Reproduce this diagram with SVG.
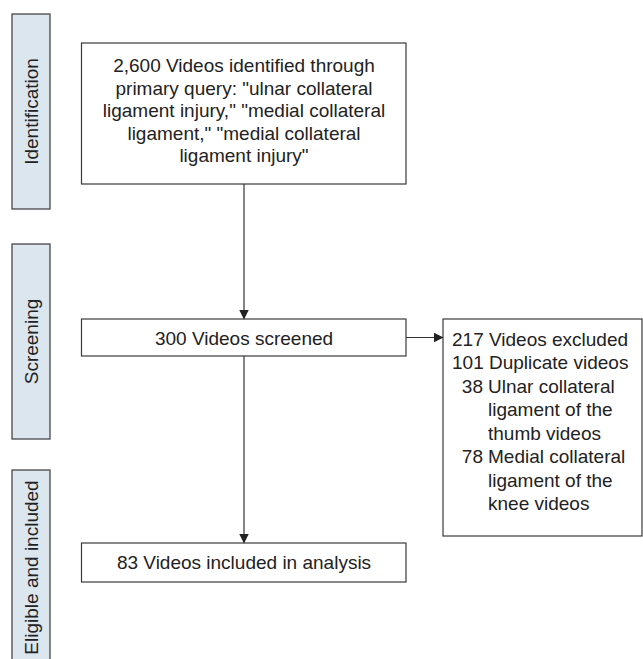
<svg xmlns="http://www.w3.org/2000/svg" width="643" height="659" viewBox="0 0 643 659">
<style>
.bar{fill:#dce6ef;stroke:#3a3a3a;stroke-width:1.2}
.box{fill:#ffffff;stroke:#3a3a3a;stroke-width:1.2}
.t{font-family:"Liberation Sans",Arial,sans-serif;font-size:19px;fill:#222}
.c{text-anchor:middle}
.e{text-anchor:end}
.ln{stroke:#333;stroke-width:1.2;fill:none}
</style>
<defs>
<marker id="ah" markerWidth="10" markerHeight="10" refX="9" refY="5" orient="auto" markerUnits="userSpaceOnUse">
<path d="M0,0 L10,5 L0,10 Z" fill="#222"/>
</marker>
</defs>
<rect width="643" height="659" fill="#ffffff"/>
<g id="stage-identification">
<rect class="bar" x="12" y="14" width="38" height="195"/>
<text class="t c" transform="translate(37.5,111.5) rotate(-90)">Identification</text>
</g>
<g id="stage-screening">
<rect class="bar" x="12" y="244" width="38" height="195"/>
<text class="t c" transform="translate(37.5,341.5) rotate(-90)">Screening</text>
</g>
<g id="stage-eligible">
<rect class="bar" x="12" y="470" width="38" height="200"/>
<text class="t c" transform="translate(37.5,567.5) rotate(-90)">Eligible and included</text>
</g>
<g id="node-identified">
<rect class="box" x="81.5" y="43" width="324.5" height="141"/>
<text class="t c" x="244" y="72">2,600 Videos identified through</text>
<text class="t c" x="244" y="94.5">primary query: "ulnar collateral</text>
<text class="t c" x="244" y="117">ligament injury," "medial collateral</text>
<text class="t c" x="244" y="139.5">ligament," "medial collateral</text>
<text class="t c" x="244" y="162">ligament injury"</text>
</g>
<g id="node-screened">
<rect class="box" x="81.5" y="319" width="324.5" height="37"/>
<text class="t c" x="244" y="344.5">300 Videos screened</text>
</g>
<g id="node-excluded">
<rect class="box" x="443" y="319" width="199" height="217"/>
<text class="t" x="452" y="345.5">217 Videos excluded</text>
<text class="t" x="452" y="369">101 Duplicate videos</text>
<text class="t e" x="483" y="392.5">38</text>
<text class="t" x="488" y="392.5">Ulnar collateral</text>
<text class="t" x="488" y="416">ligament of the</text>
<text class="t" x="488" y="439.5">thumb videos</text>
<text class="t e" x="483" y="463">78</text>
<text class="t" x="488" y="463">Medial collateral</text>
<text class="t" x="488" y="486.5">ligament of the</text>
<text class="t" x="488" y="510">knee videos</text>
</g>
<g id="node-included">
<rect class="box" x="81.5" y="543" width="324.5" height="39"/>
<text class="t c" x="244" y="569">83 Videos included in analysis</text>
</g>
<g id="connectors">
<line class="ln" x1="244" y1="184" x2="244" y2="318.5" marker-end="url(#ah)"/>
<line class="ln" x1="244" y1="356" x2="244" y2="542.5" marker-end="url(#ah)"/>
<line class="ln" x1="406" y1="337.5" x2="442.5" y2="337.5" marker-end="url(#ah)"/>
</g>
</svg>
